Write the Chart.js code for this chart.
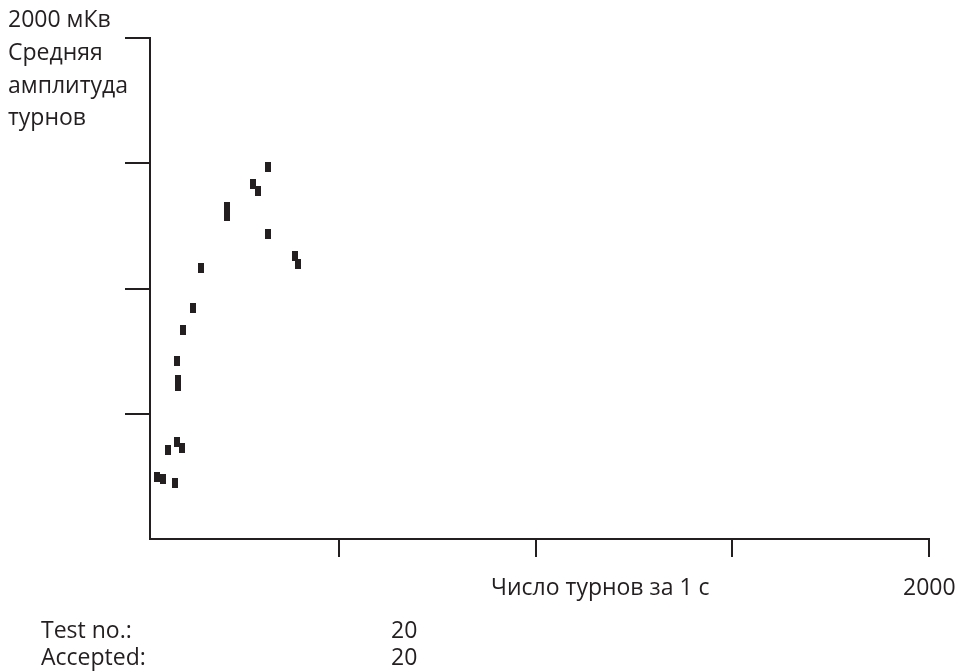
<!DOCTYPE html>
<html>
<head>
<meta charset="utf-8">
<script src="https://cdn.jsdelivr.net/npm/chart.js@4/dist/chart.umd.min.js"></script>
<style>
  body { margin: 0; background: #fff; }
  #wrap { position: relative; width: 961px; height: 672px; }
  #mycanvas { position: absolute; left: 0; top: 0; }
  .lbl { position: absolute; font-family: "Open Sans", sans-serif; font-size: 23px; line-height: 23px; color: #231f20; white-space: nowrap; }
</style>
</head>
<body>
<div id="wrap">
  <canvas id="mycanvas" width="961" height="672"></canvas>
  <div class="lbl" style="left:8px;top:7px">2000 мКв</div>
  <div class="lbl" style="left:8px;top:40px">Средняя</div>
  <div class="lbl" style="left:8px;top:73px">амплитуда</div>
  <div class="lbl" style="left:8px;top:105px">турнов</div>
  <div class="lbl" style="left:491px;top:575px">Число турнов за 1 с</div>
  <div class="lbl" style="left:903px;top:575px">2000</div>
  <div class="lbl" style="left:41px;top:618px">Test no.:</div>
  <div class="lbl" style="left:391px;top:618px">20</div>
  <div class="lbl" style="left:41px;top:645px">Accepted:</div>
  <div class="lbl" style="left:391px;top:645px">20</div>
</div>
<script>
// turns per second (x) and mean turn amplitude, uV (y)
var turnRate = [319, 281, 294, 214, 214, 319, 388, 396, 149, 130,
                103, 87, 90, 90, 88, 101, 65, 37, 53, 83];
var amplitude = [1487, 1418, 1390, 1326, 1290, 1219, 1131, 1099, 1082, 922,
                 835, 711, 635, 611, 389, 365, 357, 249, 241, 225];
var xTicks = [500, 1000, 1500, 2000];
var yTicks = [500, 1000, 1500, 2000];

var ink = "#231f20";

// small upright block used as the point marker
var marker = document.createElement("canvas");
marker.width = 6;
marker.height = 10;
var mctx = marker.getContext("2d");
mctx.fillStyle = ink;
mctx.fillRect(0, 0, 6, 10);

var points = [];
for (var i = 0; i < turnRate.length; i++) {
    points.push({x: turnRate[i], y: amplitude[i]});
}

var ctx = document.getElementById("mycanvas").getContext("2d");
new Chart(ctx, {
    type: "scatter",
    data: {
        datasets: [{
            label: "Test",
            data: points,
            pointStyle: marker,
            backgroundColor: ink,
            borderColor: ink
        }]
    },
    options: {
        responsive: false,
        animation: false,
        layout: { padding: { left: 125, top: 38, right: 32, bottom: 115 } },
        plugins: { legend: { display: false }, tooltip: { enabled: false } },
        scales: {
            x: {
                type: "linear",
                min: 19.5,
                max: 2000,
                afterBuildTicks: function(scale) {
                    scale.ticks = xTicks.map(function(v) { return {value: v}; });
                },
                afterFit: function(scale) { scale.height = 18; },
                ticks: { display: false },
                grid: { drawOnChartArea: false, drawTicks: true, tickLength: 18, color: ink, lineWidth: 2 },
                border: { display: true, color: ink, width: 2 }
            },
            y: {
                type: "linear",
                min: 0,
                max: 2000,
                afterBuildTicks: function(scale) {
                    scale.ticks = yTicks.map(function(v) { return {value: v}; });
                },
                afterFit: function(scale) { scale.width = 25; },
                ticks: { display: false },
                grid: { drawOnChartArea: false, drawTicks: true, tickLength: 25, color: ink, lineWidth: 2 },
                border: { display: true, color: ink, width: 2 }
            }
        }
    }
});
</script>
</body>
</html>
